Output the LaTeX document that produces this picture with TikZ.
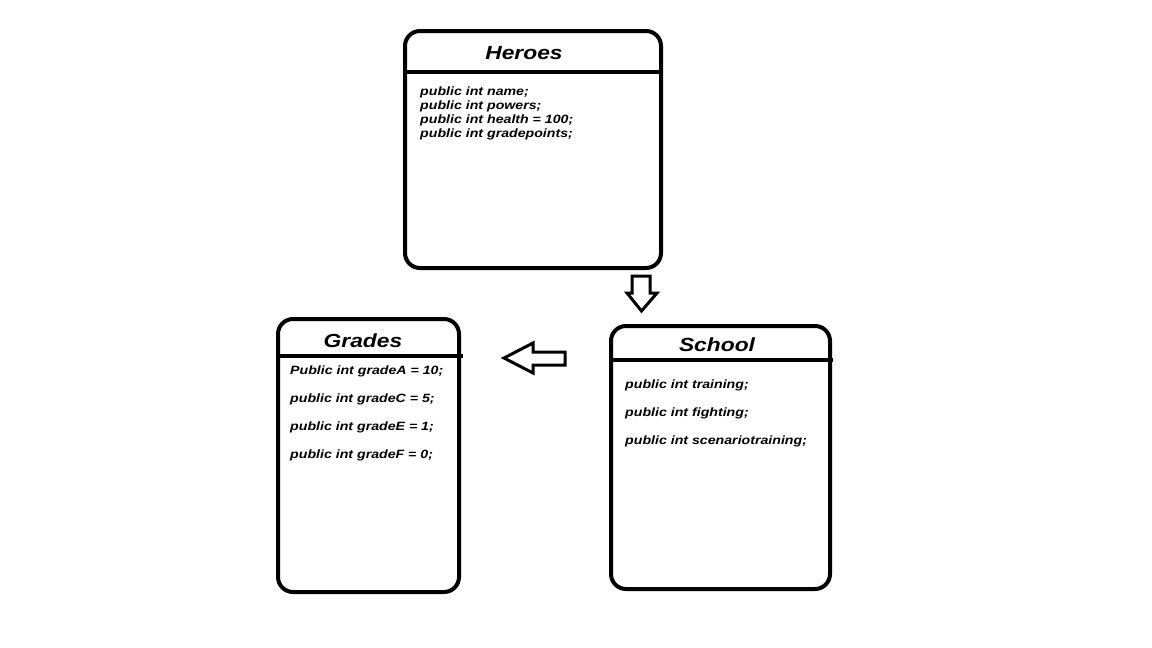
\documentclass[tikz,border=0pt]{standalone}
\usepackage{fontspec}
\setmainfont{Liberation Sans}
\begin{document}
\begin{tikzpicture}[x=1pt,y=-1pt,
  box/.style={draw=black,line width=4pt,rounded corners=15pt},
  sep/.style={draw=black,line width=4pt},
  ttl/.style={font=\fontsize{19}{22}\selectfont\bfseries\itshape,inner sep=0pt,xscale=1.2},
  fld/.style={font=\fontsize{12}{14}\selectfont\bfseries\itshape,inner sep=0pt,anchor=west,xscale=1.18},
  bigarrow/.style={draw=black,line width=3pt,fill=white,line join=miter}]
\useasboundingbox[fill=white] (0,0) rectangle (1152,648);
% Heroes
\draw[box] (405,31) rectangle (661,268);
\draw[sep] (403,72) -- (661,72);
\node[ttl] (heroesT) at (524,53) {Heroes};
\node[fld] (h1) at (420,92.5) {public int name;};
\node[fld] (h2) at (420,106.5) {public int powers;};
\node[fld] (h3) at (420,120.5) {public int health = 100;};
\node[fld] (h4) at (420,134.5) {public int gradepoints;};
% Grades
\draw[box] (278,319) rectangle (459,592);
\draw[sep] (278,356) -- (463,356);
\node[ttl] (gradesT) at (363,341) {Grades};
\node[fld] (g1) at (290,371.5) {Public int gradeA = 10;};
\node[fld] (g2) at (290,399.5) {public int gradeC = 5;};
\node[fld] (g3) at (290,427.5) {public int gradeE = 1;};
\node[fld] (g4) at (290,455.5) {public int gradeF = 0;};
% School
\draw[box] (611,326) rectangle (830,589);
\draw[sep] (611,360) -- (833,360);
\node[ttl] (schoolT) at (717,345) {School};
\node[fld] (s1) at (625,385.5) {public int training;};
\node[fld] (s2) at (625,413.5) {public int fighting;};
\node[fld] (s3) at (625,441.5) {public int scenariotraining;};
% arrows
\draw[bigarrow] (632,276) -- (650,276) -- (650,293) -- (657,293) -- (641.5,311) -- (627,293) -- (632,293) -- cycle;
\draw[bigarrow] (565,352) -- (533,352) -- (533,343) -- (504,358) -- (533,373) -- (533,365) -- (565,365) -- cycle;
\end{tikzpicture}
\end{document}
